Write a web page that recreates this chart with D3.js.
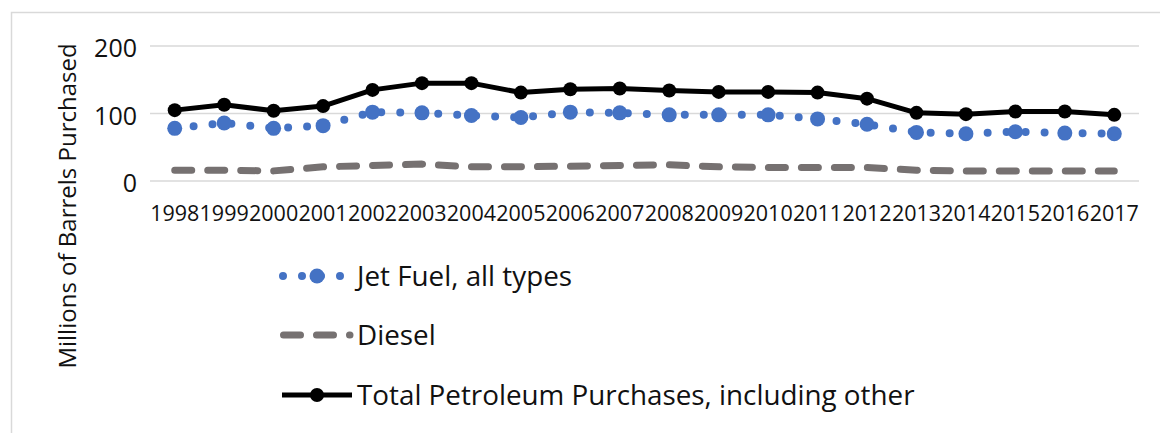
<!DOCTYPE html>
<html>
<head>
<meta charset="utf-8">
<script src="https://cdn.jsdelivr.net/npm/d3@7"></script>
<style>
  body { margin: 0; background: #fff; }
  text { font-family: "Open Sans", sans-serif; fill: #111; }
</style>
</head>
<body>
<div id="chart"></div>
<script>
// data (millions of barrels)
const years = ["1998","1999","2000","2001","2002","2003","2004","2005","2006","2007",
               "2008","2009","2010","2011","2012","2013","2014","2015","2016","2017"];
const jetFuel = [78, 86, 78, 82, 102, 101, 97, 94, 102, 101, 98, 98, 98, 92, 84, 72, 70, 73, 71, 70];
const diesel  = [16, 16, 15, 21, 23, 25, 21, 21, 22, 23, 24, 21, 20, 20, 20, 16, 15, 15, 15, 15];
const total   = [105, 113, 104, 111, 135, 145, 145, 131, 136, 137, 134, 132, 132, 131, 122, 101, 99, 103, 103, 98];
const yTicks  = [0, 100, 200];

const width = 1160, height = 433;
const margin = {top: 46, right: 21, left: 150};
const plotBottom = 181;

const svg = d3.select("#chart")
  .append("svg")
    .attr("width", width)
    .attr("height", height);

// chart frame (only top and left edges are inside the picture)
svg.append("rect")
  .attr("x", 11.5).attr("y", 12.5)
  .attr("width", 1200).attr("height", 500)
  .attr("fill", "none")
  .attr("stroke", "#d9d9d9")
  .attr("stroke-width", 1.5);

const x = d3.scaleBand()
  .domain(years)
  .range([margin.left, width - margin.right]);

const y = d3.scaleLinear()
  .domain([0, 200])
  .range([plotBottom, margin.top]);

// gridlines
svg.append("g")
  .selectAll("line")
  .data(yTicks)
  .join("line")
    .attr("x1", margin.left)
    .attr("x2", width - margin.right)
    .attr("y1", d => y(d))
    .attr("y2", d => y(d))
    .attr("stroke", "#d9d9d9")
    .attr("stroke-width", 1.5);

// y axis labels
const yAxis = svg.append("g")
  .attr("transform", `translate(${margin.left - 13},0)`)
  .call(d3.axisLeft(y).tickValues(yTicks).tickSize(0).tickPadding(0));
yAxis.select(".domain").remove();
yAxis.selectAll("text")
  .attr("font-size", "25px")
  .attr("font-family", "Open Sans")
  .attr("fill", "#111")
  .attr("dy", "0.42em");

// x axis labels
const xAxis = svg.append("g")
  .attr("transform", `translate(0,${plotBottom})`)
  .call(d3.axisBottom(x).tickSize(0).tickPadding(0));
xAxis.select(".domain").remove();
xAxis.selectAll("text")
  .attr("font-size", "21.5px")
  .attr("font-family", "Open Sans")
  .attr("fill", "#111")
  .attr("dy", "1.85em");

// y axis title
svg.append("text")
  .attr("transform", "translate(76,206) rotate(-90)")
  .attr("text-anchor", "middle")
  .attr("font-size", "24px")
  .text("Millions of Barrels Purchased");

const line = d3.line()
  .x((d, i) => x(years[i]) + x.bandwidth() / 2)
  .y(d => y(d));

const jetColor = "#4472c4", dieselColor = "#767171", totalColor = "#000";

// Jet fuel: round dots with large markers
svg.append("path")
  .datum(jetFuel)
  .attr("fill", "none")
  .attr("stroke", jetColor)
  .attr("stroke-width", 8)
  .attr("stroke-linecap", "round")
  .attr("stroke-dasharray", "0,19")
  .attr("d", line);
svg.append("g")
  .selectAll("circle")
  .data(jetFuel)
  .join("circle")
    .attr("cx", (d, i) => x(years[i]) + x.bandwidth() / 2)
    .attr("cy", d => y(d))
    .attr("r", 7.5)
    .attr("fill", jetColor);

// Diesel: long dashes
svg.append("path")
  .datum(diesel)
  .attr("fill", "none")
  .attr("stroke", dieselColor)
  .attr("stroke-width", 7)
  .attr("stroke-linecap", "round")
  .attr("stroke-dasharray", "17,16")
  .attr("d", line);

// Total petroleum: solid black with markers
svg.append("path")
  .datum(total)
  .attr("fill", "none")
  .attr("stroke", totalColor)
  .attr("stroke-width", 5)
  .attr("stroke-linejoin", "round")
  .attr("d", line);
svg.append("g")
  .selectAll("circle")
  .data(total)
  .join("circle")
    .attr("cx", (d, i) => x(years[i]) + x.bandwidth() / 2)
    .attr("cy", d => y(d))
    .attr("r", 7)
    .attr("fill", totalColor);

// legend
const legend = svg.append("g");
const textX = 357;

// jet fuel entry
legend.append("line")
  .attr("x1", 283).attr("x2", 341).attr("y1", 276).attr("y2", 276)
  .attr("stroke", jetColor).attr("stroke-width", 8)
  .attr("stroke-linecap", "round").attr("stroke-dasharray", "0,19");
legend.append("circle")
  .attr("cx", 317).attr("cy", 276).attr("r", 7.5).attr("fill", jetColor);
legend.append("text")
  .attr("x", textX).attr("y", 276).attr("dy", "0.36em")
  .attr("font-size", "27.8px")
  .text("Jet Fuel, all types");

// diesel entry
legend.append("line")
  .attr("x1", 283.5).attr("x2", 350).attr("y1", 335).attr("y2", 335)
  .attr("stroke", dieselColor).attr("stroke-width", 7)
  .attr("stroke-linecap", "round").attr("stroke-dasharray", "17,16");
legend.append("text")
  .attr("x", textX).attr("y", 335).attr("dy", "0.36em")
  .attr("font-size", "27.8px")
  .text("Diesel");

// total entry
legend.append("line")
  .attr("x1", 282).attr("x2", 352).attr("y1", 395).attr("y2", 395)
  .attr("stroke", totalColor).attr("stroke-width", 5);
legend.append("circle")
  .attr("cx", 317).attr("cy", 395).attr("r", 7).attr("fill", totalColor);
legend.append("text")
  .attr("x", textX).attr("y", 395).attr("dy", "0.36em")
  .attr("font-size", "27.8px")
  .text("Total Petroleum Purchases, including other");
</script>
</body>
</html>
